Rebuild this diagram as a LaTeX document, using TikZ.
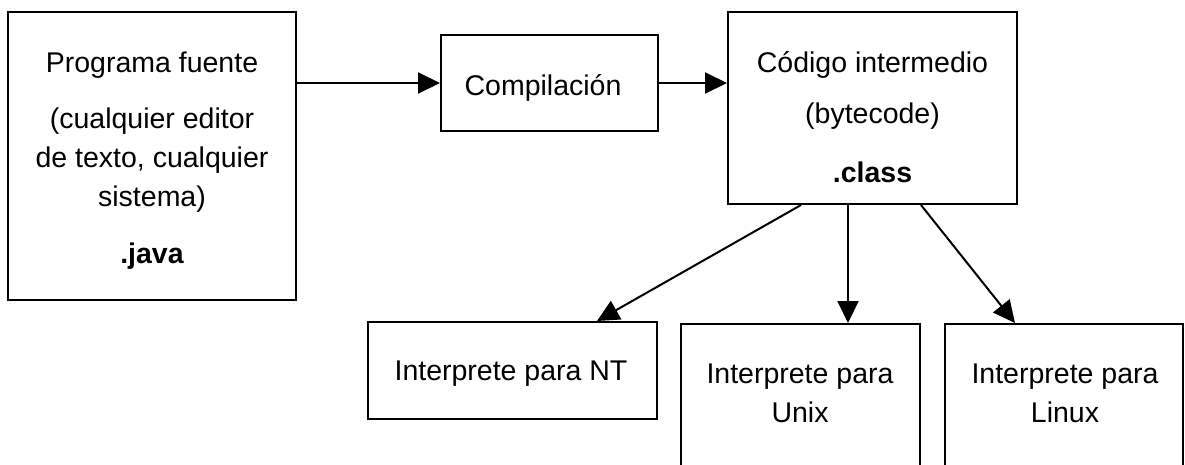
\documentclass[tikz,border=0pt]{standalone}
\usepackage{fontspec}
\setmainfont{Liberation Sans}
\usetikzlibrary{arrows.meta,calc}
\begin{document}
\begin{tikzpicture}[x=1pt,y=-1pt,
  boxnode/.style={draw=black,line width=2pt,inner sep=0pt,fill=white},
  txt/.style={inner sep=0pt,anchor=base,font=\fontsize{28.5}{34}\selectfont},
  btxt/.style={txt,font=\fontsize{28.5}{34}\selectfont\bfseries},
  conn/.style={line width=2pt,-{Triangle[length=22pt,width=21pt]}}]
\useasboundingbox (0,0) rectangle (1185,464);
% boxes
\node[boxnode,minimum width=288pt,minimum height=288pt] (src) at (152,156) {};
\node[boxnode,minimum width=217pt,minimum height=96pt] (comp) at (549.5,83) {};
\node[boxnode,minimum width=289pt,minimum height=192pt] (byte) at (872.5,108) {};
\node[boxnode,minimum width=289pt,minimum height=97pt] (nt) at (512.5,370.5) {};
\node[boxnode,minimum width=239pt,minimum height=170pt] (unix) at (800.5,409) {};
\node[boxnode,minimum width=238pt,minimum height=170pt] (linux) at (1064,409) {};
% texts
\node[txt] (s1) at (152,72) {Programa fuente};
\node[txt] (s2) at (152,128) {(cualquier editor};
\node[txt] (s3) at (152,167) {de texto, cualquier};
\node[txt] (s4) at (152,206) {sistema)};
\node[btxt] (s5) at (152,263) {.java};
\node[txt] (c1) at (543,95) {Compilación};
\node[txt] (b1) at (872.5,72) {Código intermedio};
\node[txt] (b2) at (872.5,123) {(bytecode)};
\node[btxt] (b3) at (872.5,182) {.class};
\node[txt] (n1) at (511,380) {Interprete para NT};
\node[txt] (u1) at (800,383) {Interprete para};
\node[txt] (u2) at (800,422) {Unix};
\node[txt] (l1) at (1065,383) {Interprete para};
\node[txt] (l2) at (1065,422) {Linux};
% connector end points
\coordinate (ntA) at ($(byte.south west)+(74,0)$);
\coordinate (ntB) at ($(nt.north west)+(230,0)$);
\coordinate (uxA) at ($(byte.south west)+(121,0)$);
\coordinate (lxA) at ($(byte.south west)+(194,0)$);
\coordinate (lxB) at ($(linux.north west)+(71,0)$);
% connectors
\draw[conn] (src.east |- comp.west) -- (comp.west);
\draw[conn] (comp.east) -- (comp.east -| byte.west);
\draw[conn] (ntA) -- (ntB);
\draw[conn] (uxA) -- (uxA |- unix.north);
\draw[conn] (lxA) -- (lxB);
\end{tikzpicture}
\end{document}
